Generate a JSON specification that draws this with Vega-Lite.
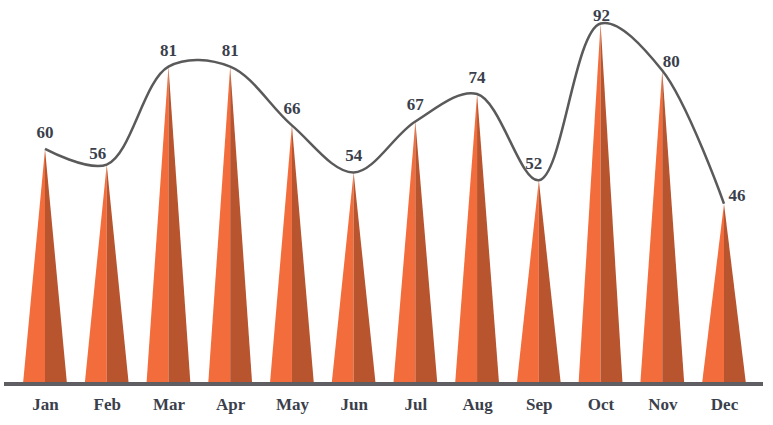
{
  "$schema": "https://vega.github.io/schema/vega-lite/v6.json",
  "width": 759,
  "height": 384,
  "autosize": {"type": "none"},
  "padding": {"left": 4, "top": 0, "right": 10, "bottom": 41},
  "background": "white",
  "config": {
    "view": {"stroke": null},
    "axis": {"grid": false},
    "text": {"baseline": "alphabetic", "font": "Liberation Serif", "fontWeight": "bold", "fontSize": 17, "color": "#3b3f4c"}
  },
  "data": {
    "values": [
      {"month": "Jan", "value": 60},
      {"month": "Feb", "value": 56},
      {"month": "Mar", "value": 81},
      {"month": "Apr", "value": 81},
      {"month": "May", "value": 66},
      {"month": "Jun", "value": 54},
      {"month": "Jul", "value": 67},
      {"month": "Aug", "value": 74},
      {"month": "Sep", "value": 52},
      {"month": "Oct", "value": 92},
      {"month": "Nov", "value": 80},
      {"month": "Dec", "value": 46}
    ]
  },
  "layer": [
    {
      "transform": [
        {"fold": ["value"], "as": ["part", "v"]},
        {"impute": "v", "key": "part", "keyvals": ["base", "value"], "groupby": ["month"], "value": 0}
      ],
      "mark": {"type": "area", "color": "#f36c3b"},
      "encoding": {
        "x": {
          "field": "month", "type": "nominal", "sort": null,
          "scale": {"type": "point", "range": [41, 720], "padding": 0},
          "axis": {"title": null, "domain": false, "ticks": false, "labelAngle": 0, "labelFont": "Liberation Serif", "labelFontWeight": "bold", "labelFontSize": 17, "labelColor": "#3b3f4c", "labelPadding": 12}
        },
        "xOffset": {"field": "part", "type": "nominal", "scale": {"type": "point", "domain": ["base", "value", "rbase"], "range": [-22, 22], "padding": 0}},
        "y": {"field": "v", "type": "quantitative", "stack": null, "scale": {"domain": [0, 98], "nice": false, "zero": true}, "axis": null},
        "detail": {"field": "month"}
      }
    },
    {
      "transform": [
        {"fold": ["value"], "as": ["part", "v"]},
        {"impute": "v", "key": "part", "keyvals": ["value", "rbase"], "groupby": ["month"], "value": 0}
      ],
      "mark": {"type": "area", "color": "#b8542e"},
      "encoding": {
        "x": {
          "field": "month", "type": "nominal", "sort": null,
          "scale": {"type": "point", "range": [41, 720], "padding": 0},
          "axis": {"title": null, "domain": false, "ticks": false, "labelAngle": 0, "labelFont": "Liberation Serif", "labelFontWeight": "bold", "labelFontSize": 17, "labelColor": "#3b3f4c", "labelPadding": 12}
        },
        "xOffset": {"field": "part", "type": "nominal", "scale": {"type": "point", "domain": ["base", "value", "rbase"], "range": [-22, 22], "padding": 0}},
        "y": {"field": "v", "type": "quantitative", "stack": null},
        "detail": {"field": "month"}
      }
    },
    {
      "mark": {"type": "rule", "color": "#5f5f63", "strokeWidth": 3},
      "encoding": {"y": {"datum": 0, "type": "quantitative"}}
    },
    {
      "mark": {"type": "line", "interpolate": "catmull-rom", "color": "#5a5a5a", "strokeWidth": 2.5},
      "encoding": {
        "x": {
          "field": "month", "type": "nominal", "sort": null,
          "scale": {"type": "point", "range": [41, 720], "padding": 0},
          "axis": {"title": null, "domain": false, "ticks": false, "labelAngle": 0, "labelFont": "Liberation Serif", "labelFontWeight": "bold", "labelFontSize": 17, "labelColor": "#3b3f4c", "labelPadding": 12}
        },
        "y": {"field": "value", "type": "quantitative"}
      }
    },
    {
      "transform": [{"filter": {"field": "month", "oneOf": ["Jan", "Mar", "Apr", "May", "Jun", "Jul", "Aug"]}}],
      "mark": {"type": "text", "dy": -11},
      "encoding": {
        "x": {
          "field": "month", "type": "nominal", "sort": null,
          "scale": {"type": "point", "range": [41, 720], "padding": 0},
          "axis": {"title": null, "domain": false, "ticks": false, "labelAngle": 0, "labelFont": "Liberation Serif", "labelFontWeight": "bold", "labelFontSize": 17, "labelColor": "#3b3f4c", "labelPadding": 12}
        },
        "y": {"field": "value", "type": "quantitative"},
        "text": {"field": "value", "type": "quantitative"}
      }
    },
    {
      "transform": [{"filter": {"field": "month", "equal": "Feb"}}],
      "mark": {"type": "text", "dy": -6, "dx": -9},
      "encoding": {
        "x": {
          "field": "month", "type": "nominal", "sort": null,
          "scale": {"type": "point", "range": [41, 720], "padding": 0},
          "axis": {"title": null, "domain": false, "ticks": false, "labelAngle": 0, "labelFont": "Liberation Serif", "labelFontWeight": "bold", "labelFontSize": 17, "labelColor": "#3b3f4c", "labelPadding": 12}
        },
        "y": {"field": "value", "type": "quantitative"},
        "text": {"field": "value", "type": "quantitative"}
      }
    },
    {
      "transform": [{"filter": {"field": "month", "equal": "Sep"}}],
      "mark": {"type": "text", "dy": -11, "dx": -5},
      "encoding": {
        "x": {
          "field": "month", "type": "nominal", "sort": null,
          "scale": {"type": "point", "range": [41, 720], "padding": 0},
          "axis": {"title": null, "domain": false, "ticks": false, "labelAngle": 0, "labelFont": "Liberation Serif", "labelFontWeight": "bold", "labelFontSize": 17, "labelColor": "#3b3f4c", "labelPadding": 12}
        },
        "y": {"field": "value", "type": "quantitative"},
        "text": {"field": "value", "type": "quantitative"}
      }
    },
    {
      "transform": [{"filter": {"field": "month", "equal": "Oct"}}],
      "mark": {"type": "text", "dy": -3, "dx": 1},
      "encoding": {
        "x": {
          "field": "month", "type": "nominal", "sort": null,
          "scale": {"type": "point", "range": [41, 720], "padding": 0},
          "axis": {"title": null, "domain": false, "ticks": false, "labelAngle": 0, "labelFont": "Liberation Serif", "labelFontWeight": "bold", "labelFontSize": 17, "labelColor": "#3b3f4c", "labelPadding": 12}
        },
        "y": {"field": "value", "type": "quantitative"},
        "text": {"field": "value", "type": "quantitative"}
      }
    },
    {
      "transform": [{"filter": {"field": "month", "equal": "Nov"}}],
      "mark": {"type": "text", "dy": -4, "dx": 9},
      "encoding": {
        "x": {
          "field": "month", "type": "nominal", "sort": null,
          "scale": {"type": "point", "range": [41, 720], "padding": 0},
          "axis": {"title": null, "domain": false, "ticks": false, "labelAngle": 0, "labelFont": "Liberation Serif", "labelFontWeight": "bold", "labelFontSize": 17, "labelColor": "#3b3f4c", "labelPadding": 12}
        },
        "y": {"field": "value", "type": "quantitative"},
        "text": {"field": "value", "type": "quantitative"}
      }
    },
    {
      "transform": [{"filter": {"field": "month", "equal": "Dec"}}],
      "mark": {"type": "text", "dy": -3, "dx": 13},
      "encoding": {
        "x": {
          "field": "month", "type": "nominal", "sort": null,
          "scale": {"type": "point", "range": [41, 720], "padding": 0},
          "axis": {"title": null, "domain": false, "ticks": false, "labelAngle": 0, "labelFont": "Liberation Serif", "labelFontWeight": "bold", "labelFontSize": 17, "labelColor": "#3b3f4c", "labelPadding": 12}
        },
        "y": {"field": "value", "type": "quantitative"},
        "text": {"field": "value", "type": "quantitative"}
      }
    }
  ]
}
